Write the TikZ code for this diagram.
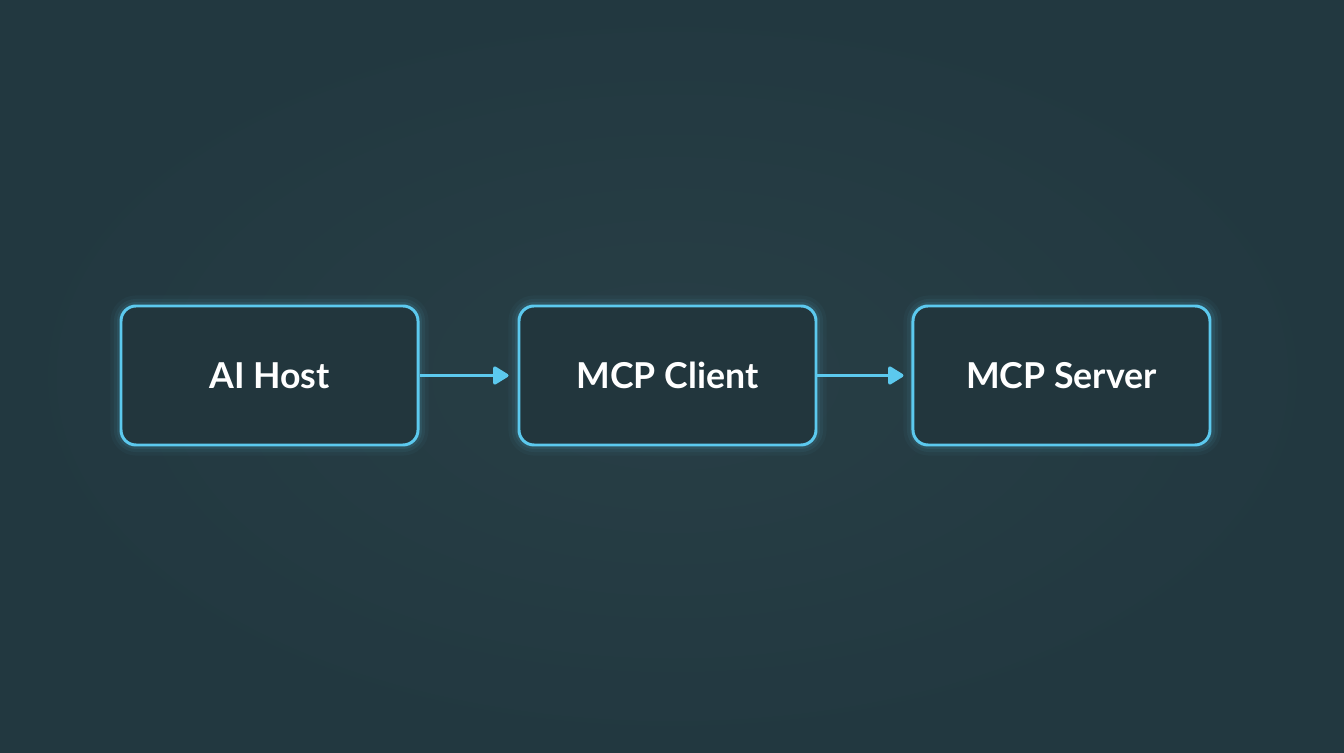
\documentclass[tikz,border=0pt]{standalone}
\usepackage{fontspec}
\setmainfont{Lato}
\usetikzlibrary{positioning,arrows.meta}

\definecolor{bgdark}{HTML}{223840}
\definecolor{bgmid}{HTML}{283F46}
\definecolor{boxfill}{HTML}{22363D}
\definecolor{glowblue}{HTML}{5CC9EE}

\tikzset{
    stage/.style={draw=glowblue, line width=1.7pt, fill=boxfill, rounded corners=0.3cm,
        minimum width=5.94cm, minimum height=2.78cm, text=white,
        font=\fontsize{20.3}{24}\selectfont\bfseries},
    flow/.style={draw=glowblue, line width=1.9pt, -{Triangle[length=0.34cm,width=0.4cm,round]}}
}

\begin{document}
\begin{tikzpicture}
        \shade[inner color=bgmid, outer color=bgdark] (0,0) rectangle (26.88,15.04);
        \useasboundingbox (0,0) rectangle (26.88,15.04);
        % soft glow under the boxes
        \foreach \cx in {5.39, 13.35, 21.25}{
            \foreach \w/\o in {12/0.04, 8/0.06, 4.5/0.09}{
                \draw[glowblue, opacity=\o, line width=\w pt, rounded corners=0.3cm]
                    (\cx-2.97,7.53-1.39) rectangle (\cx+2.97,7.53+1.39);
            }
        }
        \node[stage] (host) at (5.39,7.53) {AI Host};
        \node[stage, right=1.96cm of host] (client) {MCP Client};
        \node[stage, right=1.88cm of client] (server) {MCP Server};
        \draw[flow, shorten >=0.18cm] (host) -- (client);
        \draw[flow, shorten >=0.16cm] (client) -- (server);
    \end{tikzpicture}
\end{document}
